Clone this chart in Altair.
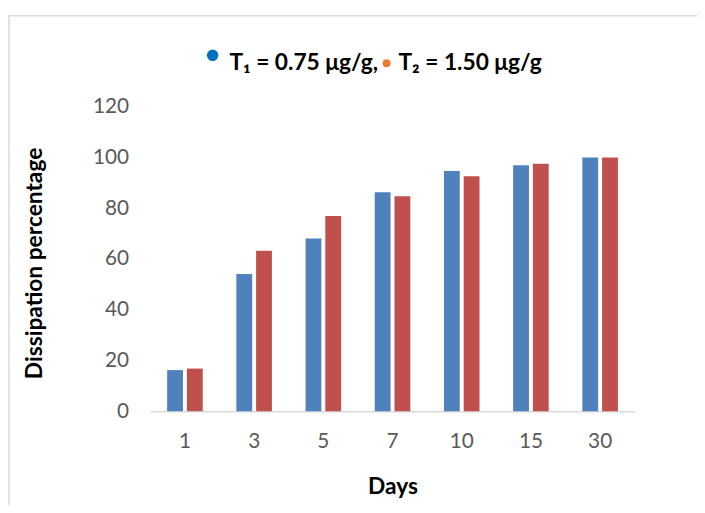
import altair as alt
import pandas as pd

days = ["1", "3", "5", "7", "10", "15", "30"]
t1_values = [16.2, 54.1, 68.1, 86.3, 94.7, 96.9, 100.0]
t2_values = [16.8, 63.2, 76.9, 84.7, 92.6, 97.5, 100.0]
series_names = ["T1", "T2"]
legend_labels = ["T\u2081 = 0.75 \u03bcg/g,", "T\u2082 = 1.50 \u03bcg/g"]
bar_colors = ["#4F81BD", "#C0504D"]
legend_colors = ["#0070C0", "#ED7D31"]

rows = []
for d, a, b in zip(days, t1_values, t2_values):
    rows.append({"day": d, "series": series_names[0], "value": a})
    rows.append({"day": d, "series": series_names[1], "value": b})
df = pd.DataFrame(rows)

FONT = "Lato"

bars = alt.Chart(df).mark_bar().encode(
    x=alt.X("day:N", sort=days,
            scale=alt.Scale(paddingInner=0.486, paddingOuter=0.243),
            axis=alt.Axis(title="Days", labelAngle=0, ticks=False,
                          domainColor="#d9d9d9", domainWidth=1.5,
                          labelPadding=20, labelFontSize=21, labelColor="#595959",
                          labelFont=FONT, titleFont=FONT, titleFontSize=23,
                          titleFontWeight="bold", titleColor="black",
                          titleY=83, titleBaseline="alphabetic")),
    xOffset=alt.XOffset("series:N", sort=series_names,
                        scale=alt.Scale(paddingInner=0.2, paddingOuter=0)),
    y=alt.Y("value:Q", scale=alt.Scale(domain=[0, 120], nice=False),
            axis=alt.Axis(title="Dissipation percentage", values=[0, 20, 40, 60, 80, 100, 120],
                          grid=False, domain=False, ticks=False,
                          labelPadding=22, labelFontSize=21, labelColor="#595959",
                          labelFont=FONT, titleFont=FONT, titleFontSize=23,
                          titleFontWeight="bold", titleColor="black",
                          titleX=-110, titleY=158, titleBaseline="alphabetic")),
    color=alt.Color("series:N", sort=series_names,
                    scale=alt.Scale(domain=series_names, range=bar_colors), legend=None),
)

one = pd.DataFrame({"a": [0]})

frame_left = alt.Chart(one).mark_rule(stroke="#d9d9d9", strokeWidth=1.5).encode(
    x=alt.value(-143), y=alt.value(-92), y2=alt.value(420)
)
frame_top = alt.Chart(one).mark_rule(stroke="#d9d9d9", strokeWidth=1.5).encode(
    x=alt.value(-143), x2=alt.value(570), y=alt.value(-92)
)

leg_df = pd.DataFrame({
    "label": legend_labels,
    "color": legend_colors,
    "px": [63, 239],
    "tx": [80, 251],
    "py": [-52, -44],
    "size": [135, 64],
})

leg_points = alt.Chart(leg_df).mark_circle(opacity=1).encode(
    x=alt.X("px:Q", scale=None),
    y=alt.Y("py:Q", scale=None),
    size=alt.Size("size:Q", scale=None, legend=None),
    color=alt.Color("color:N", scale=None),
)

leg_text = alt.Chart(leg_df).mark_text(
    align="left", baseline="alphabetic", font=FONT, fontSize=23,
    fontWeight="bold", color="black"
).encode(
    x=alt.X("tx:Q", scale=None),
    y=alt.value(-37),
    text="label:N",
)

chart = alt.layer(frame_left, frame_top, bars, leg_points, leg_text).properties(
    width=490, height=308,
    background="white",
    autosize=alt.AutoSizeParams(type="none"),
    padding={"left": 144, "top": 97, "right": 63, "bottom": 92},
).configure_view(strokeWidth=0, stroke="transparent")

chart.save("out.html", embed_options={"renderer": "svg", "actions": False})
